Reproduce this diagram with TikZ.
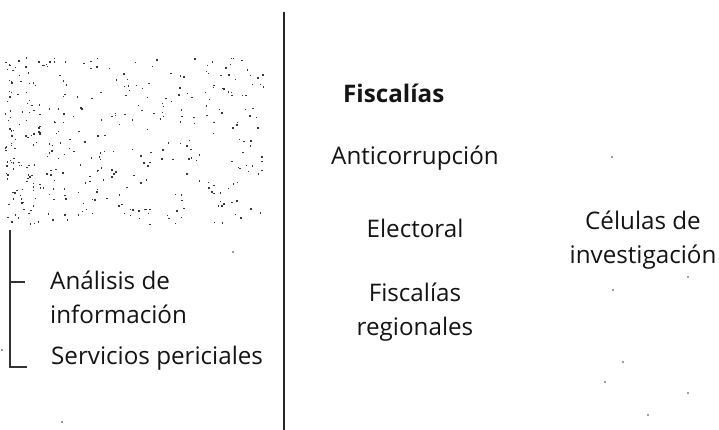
\documentclass[tikz,border=0pt]{standalone}
\usepackage{fontspec}
\setmainfont{Open Sans}
\begin{document}
\begin{tikzpicture}[x=1pt,y=-1pt,
  lbl/.style={inner sep=0pt,font=\fontsize{24.2}{34}\selectfont,text=black!92},
  hdr/.style={lbl,font=\fontsize{24.2}{34}\selectfont\bfseries},
  rule/.style={draw=black!85,line width=1.8pt},
  brk/.style={draw=black!80,line width=1.2pt},
  speck/.style={fill=black!78,draw=none}]
\useasboundingbox (0,0) rectangle (719,430);
% stippled (scanned grey) area
\pgfmathsetseed{4242}
\foreach \i in {1,...,380}{
  \pgfmathsetmacro{\rx}{5+258*(rnd^1.4)}
  \pgfmathsetmacro{\ry}{57+168*rnd}
  \fill[speck] (\rx,\ry) rectangle ++(1.4,1.4);
}
% main divider
\coordinate (dtop) at (284,12);
\coordinate (dbot) at (284,430);
\draw[rule] (dtop) -- (dbot);
% left bracket
\coordinate (btop) at (10,230);
\coordinate (bmid) at (10,282);
\coordinate (bbot) at (10,367);
\coordinate (tmid) at (25,282);
\coordinate (tbot) at (27,367);
\draw[brk] (btop) -- (bbot) -- (tbot);
\draw[brk] (bmid) -- (tmid);
% left texts
\node[lbl,anchor=west,align=left] (analisis) at (50,297) {Análisis de\\información};
\node[lbl,anchor=west] (servicios) at (51,358) {Servicios periciales};
% right texts
\node[hdr,anchor=west] (fisc) at (343,93) {Fiscalías};
\node[lbl] (anti) at (415,158) {Anticorrupción};
\node[lbl] (elec) at (415,228) {Electoral};
\node[lbl,align=center] (freg) at (415,312) {Fiscalías\\regionales};
\node[lbl,align=center] (cel) at (643,240) {Células de\\investigación};
% stray specks
\foreach \p in {(612,157),(613,290),(623,362),(605,382),(688,393),(648,415),(688,277),(233,252),(62,422),(2,350)}
  \fill[speck] \p circle (0.9);
\end{tikzpicture}
\end{document}
